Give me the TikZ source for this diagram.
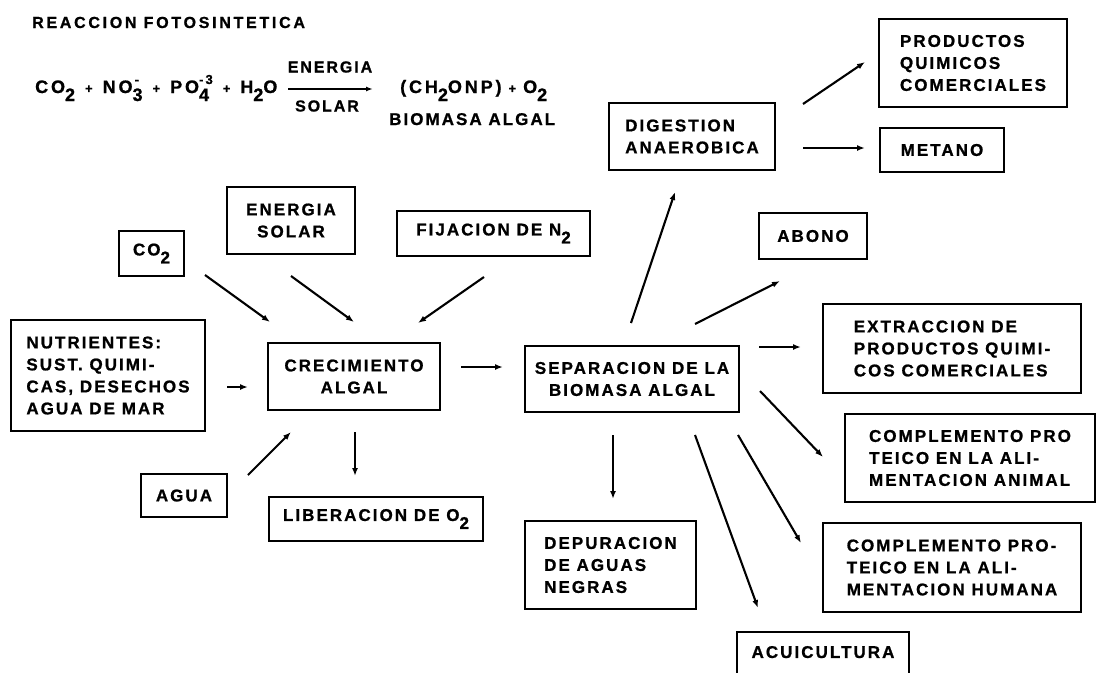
\documentclass[tikz,border=0pt]{standalone}
\usepackage{fontspec}
\newfontfamily\lbl{Liberation Sans}[LetterSpace=12, FakeBold=1]
\newfontfamily\eqf{Liberation Sans}[LetterSpace=16, FakeBold=1]
\newfontfamily\ttlf{Liberation Sans}[LetterSpace=17, FakeBold=1]
\usetikzlibrary{arrows.meta}
\newcommand{\sbs}[1]{\raisebox{-8pt}{#1}}
\newcommand{\spx}[1]{\raisebox{9pt}{\fontsize{13}{13}\selectfont #1}}
\newcommand{\pls}{\hspace{7pt}{\fontsize{13}{13}\selectfont +}\hspace{7pt}}
\newcommand{\plsw}{\hspace{10pt}{\fontsize{13}{13}\selectfont +}\hspace{10pt}}
\begin{document}
\begin{tikzpicture}[x=1pt,y=-1pt,
  box/.style={draw, line width=1.3pt, inner sep=0pt, align=left,
    font=\lbl\bfseries\fontsize{17}{22}\selectfont},
  txt/.style={inner sep=0pt, font=\lbl\bfseries\fontsize{17}{22}\selectfont},
  eqtxt/.style={inner sep=0pt, font=\eqf\bfseries\fontsize{18}{22}\selectfont},
  arr/.style={line width=2.1pt, -{Latex[length=8pt,width=6pt]}},
  eqarr/.style={line width=1.4pt, -{Latex[length=7pt,width=5pt]}}]
\useasboundingbox (0,0) rectangle (1097,672);
\clip (0,0) rectangle (1097,672);

% title and equation
\node[inner sep=0pt, anchor=base west, font=\ttlf\bfseries\fontsize{16}{18}\selectfont] (title) at (32,28) {REACCION FOTOSINTETICA};
\node[eqtxt, anchor=base west] (eql) at (35,93) {CO\sbs{2}\plsw NO\rlap{\spx{\,-}}\sbs{3}\plsw PO\rlap{\sbs{4}}\spx{-\,3}\plsw H\sbs{2}O};
\node[txt, font=\lbl\bfseries\fontsize{16}{18}\selectfont] (ener) at (330,67) {ENERGIA};
\node[txt, font=\lbl\bfseries\fontsize{16}{18}\selectfont] (solar) at (327,106) {SOLAR};
\coordinate (eqa1) at (288,89);
\coordinate (eqa2) at (373,89);
\draw[eqarr] (eqa1) -- (eqa2);
\node[eqtxt, anchor=base west] (eqr) at (400,93) {(CH\sbs{2}ONP)\pls O\sbs{2}};
\node[txt, anchor=base west] (biom) at (389,125) {BIOMASA ALGAL};

% boxes
\node[box, minimum width=65pt, minimum height=45pt] (co2b) at (151.5,253.5) {CO\sbs{2}};
\node[box, minimum width=128pt, minimum height=67pt] (ensol) at (291,220.5) {\hfil ENERGIA\hfil\\\hfil SOLAR\hfil};
\node[box, minimum width=193pt, minimum height=45pt] (fij) at (493.5,233.5) {FIJACION DE N\sbs{2}};
\node[box, minimum width=194pt, minimum height=111pt] (nutr) at (108,375.5) {NUTRIENTES:\\SUST. QUIMI-\\CAS, DESECHOS\\AGUA DE MAR};
\node[box, minimum width=172pt, minimum height=67pt, align=center] (crec) at (354,376.5) {CRECIMIENTO\\ALGAL};
\node[box, minimum width=86pt, minimum height=43pt] (agua) at (184,495.5) {AGUA};
\node[box, minimum width=214pt, minimum height=44pt] (lib) at (376,519) {LIBERACION DE O\sbs{2}};
\node[box, minimum width=214pt, minimum height=66pt, align=center] (sep) at (632,379) {SEPARACION DE LA\\BIOMASA ALGAL};
\node[box, minimum width=166pt, minimum height=67pt] (dig) at (692,136.5) {DIGESTION\\ANAEROBICA};
\node[box, minimum width=188pt, minimum height=88pt] (prod) at (973,63) {PRODUCTOS\\QUIMICOS\\COMERCIALES};
\node[box, minimum width=124pt, minimum height=44pt] (met) at (942,150) {METANO};
\node[box, minimum width=108pt, minimum height=46pt] (abono) at (813,236) {ABONO};
\node[box, minimum width=258pt, minimum height=89pt] (ext) at (952,348.5) {EXTRACCION DE\\PRODUCTOS QUIMI-\\COS COMERCIALES};
\node[box, minimum width=250pt, minimum height=88pt] (anim) at (970,458) {COMPLEMENTO PRO\\TEICO EN LA ALI-\\MENTACION ANIMAL};
\node[box, minimum width=258pt, minimum height=89pt] (hum) at (952,567.5) {COMPLEMENTO PRO-\\TEICO EN LA ALI-\\MENTACION HUMANA};
\node[box, minimum width=171pt, minimum height=88pt] (dep) at (610.5,565) {DEPURACION\\DE AGUAS\\NEGRAS};
\node[box, minimum width=172pt, minimum height=70pt, text depth=30pt] (acui) at (823,667) {ACUICULTURA};

% arrow end points
\coordinate (c1s) at (205,275);  \coordinate (c1e) at (270,322);
\coordinate (c2s) at (291,276);  \coordinate (c2e) at (354,322);
\coordinate (c3s) at (484,277);  \coordinate (c3e) at (418,323);
\coordinate (c4s) at (227,387);  \coordinate (c4e) at (248,387);
\coordinate (c5s) at (248,475);  \coordinate (c5e) at (291,432);
\coordinate (c6s) at (355,432);  \coordinate (c6e) at (355,476);
\coordinate (c7s) at (461,367);  \coordinate (c7e) at (503,367);
\coordinate (c8s) at (631,323);  \coordinate (c8e) at (675,192);
\coordinate (c9s) at (695,324);  \coordinate (c9e) at (780,281);
\coordinate (c10s) at (759,347); \coordinate (c10e) at (801,347);
\coordinate (c11s) at (760,391); \coordinate (c11e) at (823,457);
\coordinate (c12s) at (613,435); \coordinate (c12e) at (613,499);
\coordinate (c13s) at (695,435); \coordinate (c13e) at (758,608);
\coordinate (c14s) at (738,435); \coordinate (c14e) at (801,543);
\coordinate (c15s) at (803,104); \coordinate (c15e) at (865,62);
\coordinate (c16s) at (803,148); \coordinate (c16e) at (865,148);

\foreach \i in {1,...,16} \draw[arr] (c\i s) -- (c\i e);
\end{tikzpicture}
\end{document}
